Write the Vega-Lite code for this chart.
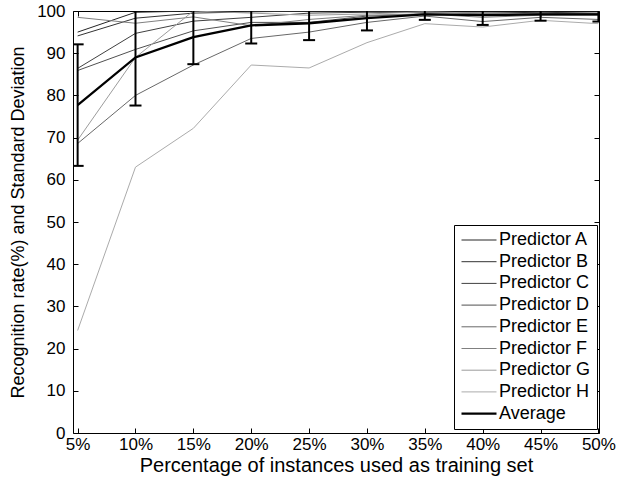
{
  "$schema": "https://vega.github.io/schema/vega-lite/v6.json",
  "width": 526,
  "height": 422,
  "autosize": "none",
  "padding": {"left": 73, "top": 11, "right": 28, "bottom": 44},
  "background": "white",
  "config": {
    "font": "Liberation Sans",
    "view": {"stroke": "black", "strokeWidth": 1},
    "axis": {
      "grid": false,
      "domain": false,
      "tickColor": "black",
      "tickSize": -5,
      "labelColor": "black",
      "labelFontSize": 17,
      "titleColor": "black",
      "titleFontSize": 18,
      "titleFontWeight": "normal"
    },
    "legend": {
      "labelFontSize": 18,
      "labelColor": "black",
      "strokeColor": "black",
      "fillColor": "white",
      "padding": 6,
      "symbolType": "stroke",
      "symbolSize": 1225,
      "rowPadding": 3.7
    }
  },
  "datasets": {
    "lines": [
      {"x": 5, "series": "Predictor A", "v": 95}, {"x": 10, "series": "Predictor A", "v": 99.7}, {"x": 15, "series": "Predictor A", "v": 100}, {"x": 20, "series": "Predictor A", "v": 100}, {"x": 25, "series": "Predictor A", "v": 100}, {"x": 30, "series": "Predictor A", "v": 100}, {"x": 35, "series": "Predictor A", "v": 100}, {"x": 40, "series": "Predictor A", "v": 100}, {"x": 45, "series": "Predictor A", "v": 100}, {"x": 50, "series": "Predictor A", "v": 100},
      {"x": 5, "series": "Predictor B", "v": 94.1}, {"x": 10, "series": "Predictor B", "v": 98.3}, {"x": 15, "series": "Predictor B", "v": 99.5}, {"x": 20, "series": "Predictor B", "v": 99.8}, {"x": 25, "series": "Predictor B", "v": 100}, {"x": 30, "series": "Predictor B", "v": 100}, {"x": 35, "series": "Predictor B", "v": 99.8}, {"x": 40, "series": "Predictor B", "v": 99.5}, {"x": 45, "series": "Predictor B", "v": 99.7}, {"x": 50, "series": "Predictor B", "v": 99.5},
      {"x": 5, "series": "Predictor C", "v": 86.4}, {"x": 10, "series": "Predictor C", "v": 94.7}, {"x": 15, "series": "Predictor C", "v": 97.6}, {"x": 20, "series": "Predictor C", "v": 98.5}, {"x": 25, "series": "Predictor C", "v": 99.5}, {"x": 30, "series": "Predictor C", "v": 99.7}, {"x": 35, "series": "Predictor C", "v": 99.6}, {"x": 40, "series": "Predictor C", "v": 99.5}, {"x": 45, "series": "Predictor C", "v": 99.3}, {"x": 50, "series": "Predictor C", "v": 99.2},
      {"x": 5, "series": "Predictor D", "v": 85.9}, {"x": 10, "series": "Predictor D", "v": 90.9}, {"x": 15, "series": "Predictor D", "v": 95.3}, {"x": 20, "series": "Predictor D", "v": 97.3}, {"x": 25, "series": "Predictor D", "v": 97.3}, {"x": 30, "series": "Predictor D", "v": 98.8}, {"x": 35, "series": "Predictor D", "v": 99.3}, {"x": 40, "series": "Predictor D", "v": 99}, {"x": 45, "series": "Predictor D", "v": 99.5}, {"x": 50, "series": "Predictor D", "v": 99.3},
      {"x": 5, "series": "Predictor E", "v": 68.6}, {"x": 10, "series": "Predictor E", "v": 80}, {"x": 15, "series": "Predictor E", "v": 87.2}, {"x": 20, "series": "Predictor E", "v": 93.5}, {"x": 25, "series": "Predictor E", "v": 95}, {"x": 30, "series": "Predictor E", "v": 97.3}, {"x": 35, "series": "Predictor E", "v": 98.8}, {"x": 40, "series": "Predictor E", "v": 97.5}, {"x": 45, "series": "Predictor E", "v": 98.5}, {"x": 50, "series": "Predictor E", "v": 98},
      {"x": 5, "series": "Predictor F", "v": 98.5}, {"x": 10, "series": "Predictor F", "v": 97.1}, {"x": 15, "series": "Predictor F", "v": 98.6}, {"x": 20, "series": "Predictor F", "v": 96.5}, {"x": 25, "series": "Predictor F", "v": 98}, {"x": 30, "series": "Predictor F", "v": 99}, {"x": 35, "series": "Predictor F", "v": 99.3}, {"x": 40, "series": "Predictor F", "v": 98.5}, {"x": 45, "series": "Predictor F", "v": 99}, {"x": 50, "series": "Predictor F", "v": 99},
      {"x": 5, "series": "Predictor G", "v": 69.4}, {"x": 10, "series": "Predictor G", "v": 89}, {"x": 15, "series": "Predictor G", "v": 100}, {"x": 20, "series": "Predictor G", "v": 99.5}, {"x": 25, "series": "Predictor G", "v": 99}, {"x": 30, "series": "Predictor G", "v": 99.3}, {"x": 35, "series": "Predictor G", "v": 99.8}, {"x": 40, "series": "Predictor G", "v": 99.5}, {"x": 45, "series": "Predictor G", "v": 99.3}, {"x": 50, "series": "Predictor G", "v": 99.2},
      {"x": 5, "series": "Predictor H", "v": 24.3}, {"x": 10, "series": "Predictor H", "v": 63}, {"x": 15, "series": "Predictor H", "v": 72.2}, {"x": 20, "series": "Predictor H", "v": 87.2}, {"x": 25, "series": "Predictor H", "v": 86.5}, {"x": 30, "series": "Predictor H", "v": 92.5}, {"x": 35, "series": "Predictor H", "v": 97}, {"x": 40, "series": "Predictor H", "v": 96.2}, {"x": 45, "series": "Predictor H", "v": 97.8}, {"x": 50, "series": "Predictor H", "v": 97}
    ],
    "avg": [
      {"x": 5, "series": "Average", "mean": 77.7, "lo": 63.3, "hi": 92.1},
      {"x": 10, "series": "Average", "mean": 89, "lo": 77.6, "hi": 100.4},
      {"x": 15, "series": "Average", "mean": 93.8, "lo": 87.4, "hi": 100.2},
      {"x": 20, "series": "Average", "mean": 96.6, "lo": 92.3, "hi": 100.9},
      {"x": 25, "series": "Average", "mean": 97.1, "lo": 93.1, "hi": 101.1},
      {"x": 30, "series": "Average", "mean": 98.3, "lo": 95.4, "hi": 101.2},
      {"x": 35, "series": "Average", "mean": 99.2, "lo": 97.9, "hi": 100.5},
      {"x": 40, "series": "Average", "mean": 99, "lo": 96.7, "hi": 101.3},
      {"x": 45, "series": "Average", "mean": 99.2, "lo": 97.7, "hi": 100.7},
      {"x": 50, "series": "Average", "mean": 99.2, "lo": 97.5, "hi": 100.9}
    ]
  },
  "resolve": {"axis": {"x": "independent", "y": "independent"}},
  "layer": [
    {
      "data": {"name": "lines"},
      "mark": {"type": "line", "clip": true, "strokeWidth": 1},
      "encoding": {
        "x": {"field": "x", "type": "quantitative", "scale": {"domain": [4.6, 50.05], "nice": false, "zero": false},
              "axis": {"orient": "bottom", "values": [5, 10, 15, 20, 25, 30, 35, 40, 45, 50], "labelExpr": "datum.value + '%'", "labelPadding": 8, "title": "Percentage of instances used as training set", "titleFontSize": 20, "titlePadding": 3, "labelFlush": false}},
        "y": {"field": "v", "type": "quantitative", "scale": {"domain": [0, 100], "nice": false},
              "axis": {"orient": "left", "values": [0, 10, 20, 30, 40, 50, 60, 70, 80, 90, 100], "labelPadding": 13, "title": "Recognition rate(%) and Standard Deviation", "titlePadding": 9}},
        "color": {"field": "series", "type": "nominal",
                  "scale": {"domain": ["Predictor A", "Predictor B", "Predictor C", "Predictor D", "Predictor E", "Predictor F", "Predictor G", "Predictor H", "Average"],
                            "range": ["#262626", "#333333", "#404040", "#505050", "#686868", "#808080", "#9c9c9c", "#ababab", "#000000"]},
                  "legend": {"title": null, "orient": "none", "legendX": 381, "legendY": 214,
                             "symbolType": "stroke", "symbolSize": 1225, "symbolOffset": 10, "labelOffset": 11,
                             "encode": {"symbols": {"update": {"strokeWidth": {"signal": "datum.value === 'Average' ? 2.3 : 1"}}}}}}
      }
    },
    {
      "data": {"name": "avg"},
      "mark": {"type": "line", "clip": true, "strokeWidth": 2.3},
      "encoding": {
        "x": {"field": "x", "type": "quantitative", "axis": {"orient": "top", "values": [5, 10, 15, 20, 25, 30, 35, 40, 45, 50], "labels": false, "title": null}},
        "y": {"field": "mean", "type": "quantitative", "axis": {"orient": "right", "values": [0, 10, 20, 30, 40, 50, 60, 70, 80, 90, 100], "labels": false, "title": null}},
        "color": {"field": "series", "type": "nominal"}
      }
    },
    {
      "data": {"name": "avg"},
      "mark": {"type": "rule", "clip": true, "color": "black", "strokeWidth": 2},
      "encoding": {
        "x": {"field": "x", "type": "quantitative", "axis": null},
        "y": {"field": "lo", "type": "quantitative", "axis": null},
        "y2": {"field": "hi"}
      }
    },
    {
      "data": {"name": "avg"},
      "mark": {"type": "tick", "orient": "horizontal", "clip": true, "color": "black", "size": 12, "thickness": 2, "opacity": 1},
      "encoding": {
        "x": {"field": "x", "type": "quantitative", "axis": null},
        "y": {"field": "lo", "type": "quantitative", "axis": null}
      }
    },
    {
      "data": {"name": "avg"},
      "mark": {"type": "tick", "orient": "horizontal", "clip": true, "color": "black", "size": 12, "thickness": 2, "opacity": 1},
      "encoding": {
        "x": {"field": "x", "type": "quantitative", "axis": null},
        "y": {"field": "hi", "type": "quantitative", "axis": null}
      }
    }
  ]
}
